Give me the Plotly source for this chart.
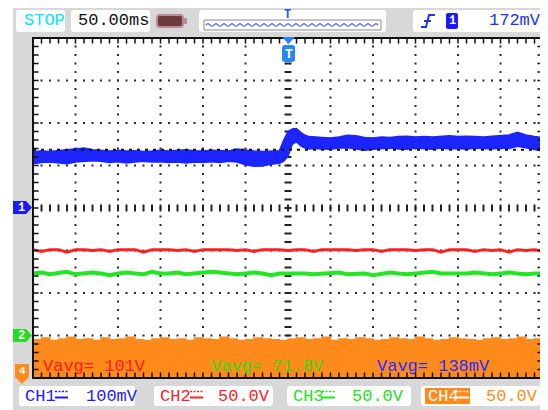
import plotly.graph_objects as go

# The page body has an 8px margin: figure is placed at (8, 8) in the window.
OFF = 8
W, H = 548 - OFF, 410 - OFF
PL, PR, PT, PB = 33, 543, 38, 378  # plot area in window pixels

# ---------------- data ----------------
# channel settings (volts/div and ground offset in divisions)
ch_scale = {"CH1": 0.1, "CH2": 50.0, "CH3": 50.0, "CH4": 50.0}
ch_offset = {"CH1": 0.0, "CH2": -3.0, "CH3": -3.0, "CH4": -4.0}
time_per_div_ms = 50.0

# CH1 (mV): upper / lower envelope of the noisy band
ch1_t = ([-300, -290, -280, -270, -260, -250, -240, -230, -220, -210,
          -200, -190, -180, -170, -160, -150, -140, -130, -120, -110,
          -100, -90, -80, -70, -60, -50, -40, -30, -20, -10]
         + [-5, 0, 5, 10, 15, 20, 25]
         + [30, 40, 50, 60, 70, 80, 90, 100, 110, 120, 130, 140, 150, 160,
            170, 180, 190, 200, 210, 220, 230, 240, 250, 260, 270, 280, 290, 300])
ch1_hi = ([133, 134, 133, 135, 136, 138, 141, 137, 135, 134, 136, 134, 135, 133, 134,
           136, 134, 135, 137, 135, 134, 136, 135, 134, 139, 136, 134, 133, 134, 135]
          + [160, 180, 186, 187, 178, 171, 168]
          + [167, 166, 165, 167, 171, 170, 166, 165, 167, 166, 168, 169, 167, 168,
             167, 169, 170, 168, 169, 168, 167, 169, 170, 172, 178, 172, 168, 166])
ch1_lo = ([104, 107, 108, 106, 104, 108, 109, 111, 110, 107, 109, 106, 108, 110, 108,
           109, 107, 108, 106, 108, 107, 109, 107, 110, 108, 102, 98, 99, 103, 105]
          + [110, 122, 150, 156, 146, 141, 139]
          + [140, 139, 138, 141, 142, 139, 136, 138, 140, 141, 139, 138, 141, 140,
             138, 141, 139, 140, 138, 141, 140, 139, 141, 140, 145, 141, 137, 134])
ch1_level_mv = 137

# CH2 / CH3 / CH4 (V), sampled every 10 ms
t_ms = [-300, -290, -280, -270, -260, -250, -240, -230, -220, -210, -200,
        -190, -180, -170, -160, -150, -140, -130, -120, -110, -100,
        -90, -80, -70, -60, -50, -40, -30, -20, -10, 0,
        10, 20, 30, 40, 50, 60, 70, 80, 90, 100,
        110, 120, 130, 140, 150, 160, 170, 180, 190, 200,
        210, 220, 230, 240, 250, 260, 270, 280, 290, 300]
ch2_v = [101, 99, 101, 101, 98, 101, 101, 100, 101, 99, 101,
         101, 101, 98, 101, 101, 101, 100, 101, 99, 101,
         101, 101, 101, 100, 101, 99, 101, 101, 101, 100,
         101, 101, 99, 101, 101, 101, 101, 100, 101, 101,
         99, 101, 101, 101, 100, 101, 101, 98, 101, 101,
         101, 99, 101, 100, 101, 98, 101, 100, 101, 99]
ch3_v = [73, 74, 72, 73, 75, 72, 73, 74, 73, 71, 73,
         74, 73, 72, 75, 73, 73, 74, 72, 73, 73,
         75, 74, 73, 72, 73, 74, 73, 71, 73, 73,
         74, 73, 72, 73, 73, 74, 72, 73, 73, 71,
         73, 74, 73, 72, 73, 74, 75, 73, 73, 72,
         73, 74, 73, 72, 73, 74, 73, 72, 73, 73]
ch4_v = [45, 47, 44, 46, 48, 45, 46, 44, 47, 45, 46,
         48, 45, 44, 46, 47, 45, 46, 44, 47, 46,
         45, 48, 46, 44, 45, 47, 46, 45, 44, 46,
         47, 45, 46, 48, 44, 46, 45, 47, 46, 44,
         45, 47, 46, 45, 48, 46, 44, 45, 47, 46,
         45, 44, 46, 47, 45, 46, 48, 45, 46, 45]

vavg_labels = [("Vavg= 101V", "#ff1a1a"), ("Vavg= 71.8V", "#33dd11"), ("Vavg= 138mV", "#2a2aff")]
ch_labels = [("CH1", "100mV", "#1a1aff"), ("CH2", "50.0V", "#ff2222"),
             ("CH3", "50.0V", "#22e022"), ("CH4", "50.0V", "#ff8c1a")]
status_text = "STOP"
timebase_text = "50.00ms"
trig_level_text = "172mV"

BLUE = "#1c24ff"
RED = "#ff2020"
GREEN = "#22e622"
ORANGE = "#ff8a1c"
GREY = "#d8d8d8"
FONT = "Liberation Mono"


def to_div(vals, ch):
    return [v / ch_scale[ch] + ch_offset[ch] for v in vals]


def fx(x):
    return (x - PL) / (PR - PL)


def fy(y):
    return (PB - y) / (PB - PT)


def rrect(x0, y0, x1, y1, r=3):
    a, b, c, d = fx(x0), fy(y0), fx(x1), fy(y1)
    rx, ry = r / (PR - PL), r / (PB - PT)
    return (f"M{a+rx},{b} L{c-rx},{b} Q{c},{b} {c},{b-ry} L{c},{d+ry} Q{c},{d} {c-rx},{d} "
            f"L{a+rx},{d} Q{a},{d} {a},{d+ry} L{a},{b-ry} Q{a},{b} {a+rx},{b} Z")


def poly(pts):
    return "M" + " L".join(f"{fx(x)},{fy(y)}" for x, y in pts) + " Z"


fig = go.Figure()

# ---------------- graticule ----------------
xmin, xmax = -6 * time_per_div_ms, 6 * time_per_div_ms
minor_y = [-4 + 0.2 * k for k in range(1, 40)]
minor_x = [xmin + 10 * k for k in range(1, 60)]
vx, vy, hx, hy = [], [], [], []
for gx in [-250, -200, -150, -100, -50, 50, 100, 150, 200, 250]:
    vx += [gx] * len(minor_y)
    vy += minor_y
for gy in [-3, -2, -1, 1, 2, 3]:
    hx += minor_x
    hy += [gy] * len(minor_x)
fig.add_trace(go.Scatter(x=vx + hx, y=vy + hy, mode="markers",
                         marker=dict(symbol="square", size=2, color="#2a2a2a", line=dict(width=0)),
                         hoverinfo="skip"))
# centre axes with tick dashes
fig.add_trace(go.Scatter(x=[0] * len(minor_y), y=minor_y, mode="markers",
                         marker=dict(symbol="line-ew", size=5, line=dict(width=2, color="#222")),
                         hoverinfo="skip"))
fig.add_trace(go.Scatter(x=minor_x, y=[0] * len(minor_x), mode="markers",
                         marker=dict(symbol="line-ns", size=5, line=dict(width=2, color="#222")),
                         hoverinfo="skip"))

# ---------------- traces ----------------
fig.add_trace(go.Scatter(x=t_ms, y=[-4.3] * len(t_ms), mode="lines",
                         line=dict(width=0, color=ORANGE), hoverinfo="skip"))
fig.add_trace(go.Scatter(x=t_ms, y=to_div(ch4_v, "CH4"), mode="lines", fill="tonexty",
                         fillcolor=ORANGE, line=dict(width=1.5, color=ORANGE, shape="hv"),
                         hoverinfo="skip"))
fig.add_trace(go.Scatter(x=t_ms, y=to_div(ch2_v, "CH2"), mode="lines",
                         line=dict(width=3, color=RED), hoverinfo="skip"))
fig.add_trace(go.Scatter(x=t_ms, y=to_div(ch3_v, "CH3"), mode="lines",
                         line=dict(width=4, color=GREEN), hoverinfo="skip"))
fig.add_trace(go.Scatter(x=ch1_t, y=to_div([v / 1000 for v in ch1_lo], "CH1"), mode="lines",
                         line=dict(width=1.5, color=BLUE), hoverinfo="skip"))
fig.add_trace(go.Scatter(x=ch1_t, y=to_div([v / 1000 for v in ch1_hi], "CH1"), mode="lines",
                         fill="tonexty", fillcolor=BLUE, line=dict(width=1.5, color=BLUE),
                         hoverinfo="skip"))
lvl = ch1_level_mv / 1000 / ch_scale["CH1"] + ch_offset["CH1"]
fig.add_trace(go.Scatter(x=[xmin, xmax], y=[lvl, lvl], mode="lines",
                         line=dict(width=2, color="#111", dash="3px,5px"), hoverinfo="skip"))

# border ticks
bx = minor_x
fig.add_trace(go.Scatter(x=bx + bx, y=[4] * len(bx) + [-4] * len(bx), mode="markers",
                         marker=dict(symbol="line-ns", size=8, line=dict(width=1.5, color="#111")),
                         hoverinfo="skip"))
fig.add_trace(go.Scatter(x=[xmin] * len(minor_y) + [xmax] * len(minor_y), y=minor_y + minor_y,
                         mode="markers",
                         marker=dict(symbol="line-ew", size=8, line=dict(width=1.5, color="#111")),
                         hoverinfo="skip"))

shapes = []
# background
shapes.append(dict(type="rect", xref="paper", yref="paper", x0=fx(13), x1=fx(550),
                   y0=fy(7), y1=fy(412), fillcolor=GREY, line=dict(width=0), layer="below"))
shapes.append(dict(type="rect", xref="paper", yref="paper", x0=0, x1=1, y0=0, y1=1,
                   fillcolor="white", line=dict(width=0), layer="below"))
# border
shapes.append(dict(type="rect", xref="paper", yref="paper", x0=0, x1=1, y0=0, y1=1,
                   line=dict(width=2, color="#111"), layer="above"))

# top bar boxes
for x0, x1 in [(16, 65), (71, 150), (199, 386), (413, 544)]:
    shapes.append(dict(type="path", path=rrect(x0, 10, x1, 32), xref="paper", yref="paper",
                       fillcolor="white", line=dict(width=0), layer="below"))
# battery icon
shapes.append(dict(type="path", path=rrect(157, 15, 183, 27, 3), xref="paper", yref="paper",
                   fillcolor="#6e3b3b", line=dict(width=2, color="#b88a98"), layer="above"))
shapes.append(dict(type="rect", xref="paper", yref="paper", x0=fx(183), x1=fx(187),
                   y0=fy(18), y1=fy(24), fillcolor="#b88a98", line=dict(width=0), layer="above"))
# wave overview
shapes.append(dict(type="rect", xref="paper", yref="paper", x0=fx(204), x1=fx(381),
                   y0=fy(20), y1=fy(30), fillcolor="white", line=dict(width=1, color="#8a8a8a"),
                   layer="above"))
wp = f"M{fx(206)},{fy(25)}"
xw = 206
up = True
while xw + 4 <= 379:
    yc = 22.5 if up else 27.5
    wp += f" Q{fx(xw + 2)},{fy(yc)} {fx(xw + 4)},{fy(25)}"
    xw += 4
    up = not up
shapes.append(dict(type="path", path=wp, xref="paper", yref="paper",
                   line=dict(width=1.2, color="#2244ff"), layer="above"))
# trigger edge icon
shapes.append(dict(type="path", xref="paper", yref="paper", layer="above",
                   path=f"M{fx(421)},{fy(27)} L{fx(426)},{fy(27)} L{fx(429)},{fy(15)} L{fx(435)},{fy(15)}",
                   line=dict(width=2, color="#2233ee")))
shapes.append(dict(type="path", xref="paper", yref="paper", layer="above",
                   path=f"M{fx(424)},{fy(21)} L{fx(431)},{fy(21)}",
                   line=dict(width=2, color="#2233ee")))
shapes.append(dict(type="path", path=rrect(446, 13, 458, 29, 2), xref="paper", yref="paper",
                   fillcolor="#1a1aff", line=dict(width=0), layer="above"))

# bottom bar boxes
for (x0, x1) in [(19, 135), (154, 273), (287, 411), (421, 540)]:
    shapes.append(dict(type="path", path=rrect(x0, 386, x1, 406), xref="paper", yref="paper",
                       fillcolor="white", line=dict(width=0), layer="below"))
shapes.append(dict(type="rect", xref="paper", yref="paper", x0=fx(425), x1=fx(470),
                   y0=fy(388), y1=fy(404), fillcolor=ORANGE, line=dict(width=0), layer="above"))
# coupling symbols
for (xs, col) in [(55, "#1a1aff"), (190, "#ff2222"), (322, "#22e022"), (456, "white")]:
    shapes.append(dict(type="line", xref="paper", yref="paper", x0=fx(xs), x1=fx(xs + 13),
                       y0=fy(391.5), y1=fy(391.5), line=dict(width=1.5, color=col, dash="2px,1.5px"),
                       layer="above"))
    shapes.append(dict(type="line", xref="paper", yref="paper", x0=fx(xs), x1=fx(xs + 13),
                       y0=fy(397.5), y1=fy(397.5), line=dict(width=2, color=col), layer="above"))

# channel markers on left
shapes.append(dict(type="path", xref="paper", yref="paper", layer="above", fillcolor="#1a1aff",
                   line=dict(width=0),
                   path=poly([(13, 201), (26, 201), (32, 207.5), (26, 214), (13, 214)])))
shapes.append(dict(type="path", xref="paper", yref="paper", layer="above", fillcolor="#22dd22",
                   line=dict(width=0),
                   path=poly([(13, 329), (26, 329), (32, 335.5), (26, 342), (13, 342)])))
shapes.append(dict(type="path", xref="paper", yref="paper", layer="above", fillcolor=ORANGE,
                   line=dict(width=0),
                   path=poly([(15, 364), (29, 364), (29, 377), (22, 384), (15, 377)])))
# trigger position marker
shapes.append(dict(type="path", xref="paper", yref="paper", layer="above", fillcolor="#2b86f0",
                   line=dict(width=0),
                   path=poly([(282, 37), (295, 37), (288.5, 44)])))
shapes.append(dict(type="path", path=rrect(282, 45, 295, 62, 3), xref="paper", yref="paper",
                   fillcolor="#2b86f0", line=dict(width=0), layer="above"))

ann = []


def txt(s, x, y, color, size=17, anchor="left", bold=False):
    ann.append(dict(text=f"<b>{s}</b>" if bold else s, x=fx(x), y=fy(y), xref="paper", yref="paper",
                    xanchor=anchor, yanchor="middle", showarrow=False,
                    font=dict(family=FONT, size=size, color=color)))


txt(status_text, 22, 21, "#00e4ff")
txt(timebase_text, 76, 21, "#111111")
txt("T", 287.5, 15, "#2255ff", size=12, anchor="center", bold=True)
txt("1", 452, 21, "white", size=12, anchor="center", bold=True)
txt(trig_level_text, 487, 21, "#2233ee")
txt("1", 21, 207.5, "white", size=12, anchor="center", bold=True)
txt("2", 21, 335.5, "#f4fff4", size=12, anchor="center", bold=True)
txt("4", 22, 371, "white", size=11, anchor="center", bold=True)
txt("T", 288.5, 54, "white", size=13, anchor="center", bold=True)
for (s, col), x in zip(vavg_labels, [41, 209, 375]):
    txt(s, x, 366, col)
for (name, val, col), xn, xv in zip(ch_labels, [23, 158, 291, 426], [84, 216, 350, 484]):
    txt(name, xn, 396, "white" if name == "CH4" else col)
    txt(val, xv, 396, col)

fig.update_layout(
    width=W, height=H, autosize=False,
    margin=dict(l=PL - OFF, r=548 - PR, t=PT - OFF, b=410 - PB, pad=0),
    paper_bgcolor="white", plot_bgcolor="white",
    showlegend=False,
    xaxis=dict(range=[xmin, xmax], showgrid=False, zeroline=False, showticklabels=False,
               ticks="", fixedrange=True),
    yaxis=dict(range=[-4, 4], showgrid=False, zeroline=False, showticklabels=False,
               ticks="", fixedrange=True),
    shapes=shapes, annotations=ann,
)

fig.write_html("out.html")
